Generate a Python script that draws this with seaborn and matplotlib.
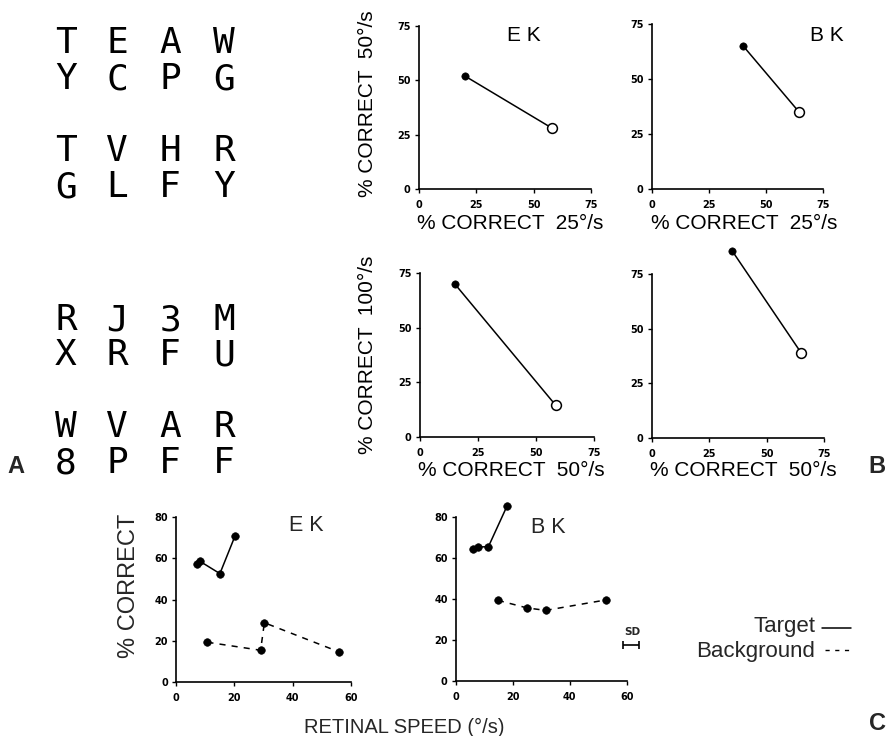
import matplotlib
matplotlib.use("Agg")
import matplotlib.pyplot as plt
import seaborn as sns
import pandas as pd
from matplotlib.lines import Line2D

# ---- Panel A: letter arrays shown on the display ----
letter_rows = [
    ["T", "E", "A", "W"],
    ["Y", "C", "P", "G"],
    ["T", "V", "H", "R"],
    ["G", "L", "F", "Y"],
    ["R", "J", "3", "M"],
    ["X", "R", "F", "U"],
    ["W", "V", "A", "R"],
    ["8", "P", "F", "F"],
]

# ---- Panel B: % correct, target (filled) then background (open) ----
ek_25_50_x = [20, 58]
ek_25_50_y = [52, 28]
bk_25_50_x = [40, 64.5]
bk_25_50_y = [65, 35]
ek_50_100_x = [15, 58.5]
ek_50_100_y = [70, 14.5]
bk_50_100_x = [35, 65]
bk_50_100_y = [85.5, 39]
b_ticks = [0, 25, 50, 75]

# ---- Panel C: % correct vs retinal speed ----
ek_target_speed = [7, 8, 15, 20.2]
ek_target_pct = [57.4, 58.7, 52.6, 70.9]
ek_bg_speed = [10.7, 29, 30.3, 56]
ek_bg_pct = [19.2, 15.3, 28.7, 14.5]
bk_target_speed = [6.1, 7.8, 11.4, 18]
bk_target_pct = [64.4, 65.2, 65.4, 85.4]
bk_bg_speed = [14.7, 25, 31.5, 52.7]
bk_bg_pct = [39.2, 35.5, 34.3, 39.4]
c_xticks = [0, 20, 40, 60]
c_yticks = [0, 20, 40, 60, 80]
sd_half_width = 2.8

sns.set_style("ticks")
plt.rcParams["font.family"] = ["Liberation Sans", "DejaVu Sans"]

W, H = 890, 736
fig = plt.figure(figsize=(W / 100, H / 100), dpi=100)


def px(x, y):
    return x / W, 1 - y / H


def add_axes(x0, y0, x1, y1):
    return fig.add_axes([x0 / W, 1 - y1 / H, (x1 - x0) / W, (y1 - y0) / H])


def style(ax, xlim, ylim, xticks, yticks):
    ax.set_xlim(*xlim)
    ax.set_ylim(*ylim)
    ax.set_xticks(xticks)
    ax.set_yticks(yticks)
    sns.despine(ax=ax)
    for s in ("left", "bottom"):
        ax.spines[s].set_linewidth(1.2)
        ax.spines[s].set_color("black")
    ax.tick_params(axis="x", length=3, width=1, pad=5, labelsize=7, colors="black")
    ax.tick_params(axis="y", length=3, width=1, pad=3, labelsize=7, colors="black")
    for t in ax.get_xticklabels() + ax.get_yticklabels():
        t.set_fontweight("bold")
        t.set_family("DejaVu Sans")
    ax.set_xlabel("")
    ax.set_ylabel("")
    ax.patch.set_alpha(0)
    for ln in ax.lines:
        ln.set_clip_on(False)
    for c in ax.collections:
        c.set_clip_on(False)


def b_panel(ax, xs, ys):
    df = pd.DataFrame({"x": xs, "y": ys})
    sns.lineplot(data=df, x="x", y="y", ax=ax, color="black", lw=1.1,
                 sort=False, estimator=None)
    sns.scatterplot(x=xs[:1], y=ys[:1], ax=ax, color="black", s=28,
                    edgecolor="black", zorder=3)
    sns.scatterplot(x=xs[1:], y=ys[1:], ax=ax, facecolor="white", s=50,
                    edgecolor="black", linewidth=1.1, zorder=3)
    style(ax, (0, 75), (0, 75), b_ticks, b_ticks)


def c_panel(ax, ts, tp, bs, bp):
    sns.lineplot(x=ts, y=tp, ax=ax, color="black", lw=1.1, sort=False, estimator=None)
    sns.lineplot(x=bs, y=bp, ax=ax, color="black", lw=1.1, sort=False,
                 estimator=None, linestyle=(0, (4, 4)))
    sns.scatterplot(x=ts + bs, y=tp + bp, ax=ax, color="black", s=30,
                    edgecolor="black", zorder=3)
    style(ax, (0, 60), (0, 80), c_xticks, c_yticks)


# ---- Panel A ----
col_x = [66, 117, 170, 224]
row_base = [53, 89, 161, 197, 330, 365, 437, 473]
for row, base in zip(letter_rows, row_base):
    for ch, cx in zip(row, col_x):
        fig.text(*px(cx, base), ch, family="DejaVu Sans Mono", fontsize=26,
                 ha="center", va="baseline", color="black")
fig.text(*px(7, 473), "A", fontsize=17, fontweight="bold", ha="left", va="baseline")

# ---- Panel B ----
ax1 = add_axes(419, 26, 591, 189)
b_panel(ax1, ek_25_50_x, ek_25_50_y)
ax2 = add_axes(652, 24, 823, 189)
b_panel(ax2, bk_25_50_x, bk_25_50_y)
ax3 = add_axes(420, 273, 594, 437)
b_panel(ax3, ek_50_100_x, ek_50_100_y)
ax4 = add_axes(652, 274, 824, 438)
b_panel(ax4, bk_50_100_x, bk_50_100_y)

lab = dict(fontsize=15, color="black")
fig.text(*px(524, 41), "E K", ha="center", va="baseline", **lab)
fig.text(*px(827, 41), "B K", ha="center", va="baseline", **lab)
fig.text(*px(417, 229), "% CORRECT  25°/s", ha="left", va="baseline", **lab)
fig.text(*px(651, 229), "% CORRECT  25°/s", ha="left", va="baseline", **lab)
fig.text(*px(418, 476), "% CORRECT  50°/s", ha="left", va="baseline", **lab)
fig.text(*px(650, 476), "% CORRECT  50°/s", ha="left", va="baseline", **lab)
fig.text(*px(373, 104), "% CORRECT  50°/s", rotation=90, rotation_mode="anchor",
         ha="center", va="baseline", **lab)
fig.text(*px(373, 355), "% CORRECT  100°/s", rotation=90, rotation_mode="anchor",
         ha="center", va="baseline", **lab)
fig.text(*px(868, 473), "B", fontsize=17, fontweight="bold", ha="left", va="baseline")

# ---- Panel C ----
ax5 = add_axes(176.3, 517.3, 350.7, 681.7)
c_panel(ax5, ek_target_speed, ek_target_pct, ek_bg_speed, ek_bg_pct)
ax6 = add_axes(456, 516.7, 626.7, 680.7)
c_panel(ax6, bk_target_speed, bk_target_pct, bk_bg_speed, bk_bg_pct)
ax6.errorbar([61.5], [17.4], xerr=[sd_half_width], fmt="none", ecolor="black",
             elinewidth=1.2, capsize=3, capthick=1.2, clip_on=False)
for a in (ax5, ax6):
    for c in a.get_children():
        if hasattr(c, "set_clip_on"):
            c.set_clip_on(False)

fig.text(*px(632, 635), "SD", fontsize=7.5, fontweight="bold", family="DejaVu Sans",
         ha="center", va="baseline")
fig.text(*px(306, 531), "E K", ha="center", va="baseline", fontsize=15.5)
fig.text(*px(548, 533), "B K", ha="center", va="baseline", fontsize=15.5)
fig.text(*px(135, 586), "% CORRECT", rotation=90, rotation_mode="anchor",
         ha="center", va="baseline", fontsize=17)
fig.text(*px(404, 733), "RETINAL SPEED (°/s)", ha="center", va="baseline", fontsize=14.5)

# key for line styles
fig.text(*px(815, 632), "Target", ha="right", va="baseline", fontsize=16)
fig.text(*px(815, 657), "Background", ha="right", va="baseline", fontsize=16)
fig.add_artist(Line2D([822 / W, 851 / W], [1 - 628 / H, 1 - 628 / H],
                      transform=fig.transFigure, color="black", lw=1.1))
fig.add_artist(Line2D([825 / W, 852 / W], [1 - 650 / H, 1 - 650 / H],
                      transform=fig.transFigure, color="black", lw=1.0,
                      linestyle=(0, (3, 4))))
fig.text(*px(869, 730), "C", fontsize=17, fontweight="bold", ha="left", va="baseline")

fig.savefig("out.png", dpi=100, facecolor="white")
